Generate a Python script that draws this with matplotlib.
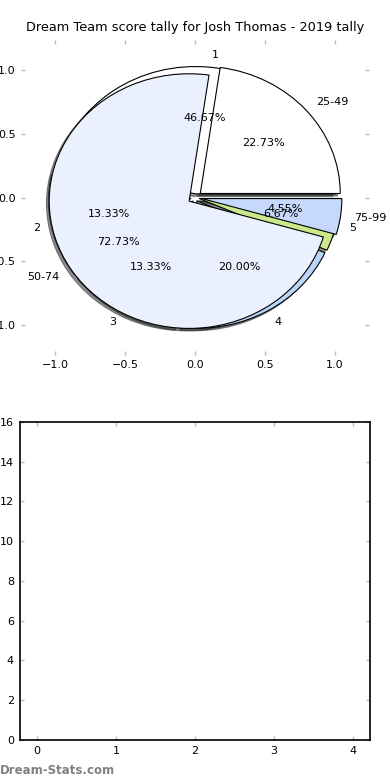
import matplotlib
matplotlib.use("Agg")
import matplotlib.pyplot as plt

title = "Dream Team score tally for Josh Thomas - 2019 tally"

range_labels = ["25-49", "50-74", "75-99"]
range_values = [5, 16, 1]
range_colors = ["#ffffff", "#eaf0fd", "#c6d9fd"]

rank_labels = ["1", "2", "3", "4", "5"]
rank_values = [7, 2, 2, 3, 1]
rank_colors = ["#ffffff", "#eaf0fd", "#c6d9fd", "#b9d6f8", "#cbe98c"]

bar_xticks = [0, 1, 2, 3, 4]
bar_yticks = [0, 2, 4, 6, 8, 10, 12, 14, 16]

plt.rcParams["font.family"] = ["DejaVu Sans"]

fig = plt.figure(figsize=(3.9, 7.8), dpi=100)
ax1 = fig.add_axes([0.054, 0.545, 0.892, 0.404])
ax2 = fig.add_axes([0.05, 0.0513, 0.899, 0.408])

wp = dict(edgecolor="black", linewidth=0.8)
tp = dict(fontsize=8)
shad = dict(ox=-0.014, oy=-0.014, shade=0.85)

# second (rank) pie drawn first, underneath
ax1.pie(rank_values, labels=rank_labels, colors=rank_colors,
        explode=[0.03] * len(rank_values), autopct="%.2f%%", shadow=shad,
        startangle=0, wedgeprops=wp, textprops=tp, frame=True)
ax1.pie(range_values, labels=range_labels, colors=range_colors,
        explode=[0.05] * len(range_values), autopct="%.2f%%", shadow=shad,
        startangle=0, wedgeprops=wp, textprops=tp, frame=True)

ax1.set_aspect("auto")
ax1.set_xlim(-1.243, 1.243)
ax1.set_ylim(-1.235, 1.24)
ax1.set_xticks([-1.0, -0.5, 0.0, 0.5, 1.0])
ax1.set_yticks([-1.0, -0.5, 0.0, 0.5, 1.0])
ax1.set_frame_on(False)
ax1.set_title(title, fontsize=9.3)

for ax in (ax1, ax2):
    ax.tick_params(direction="in", length=3, width=1, color="#bbbbbb",
                   labelsize=8, pad=4, top=True, right=True)

ax2.set_xlim(-0.22, 4.22)
ax2.set_ylim(0, 16)
ax2.set_xticks(bar_xticks)
ax2.set_yticks(bar_yticks)
for s in ax2.spines.values():
    s.set_color("black")
    s.set_linewidth(1.2)

fig.text(0.0, 0.004, "Dream-Stats.com", fontsize=8.5, color="#808080",
         fontweight="semibold", ha="left", va="bottom")

fig.savefig("out.png", dpi=100)
